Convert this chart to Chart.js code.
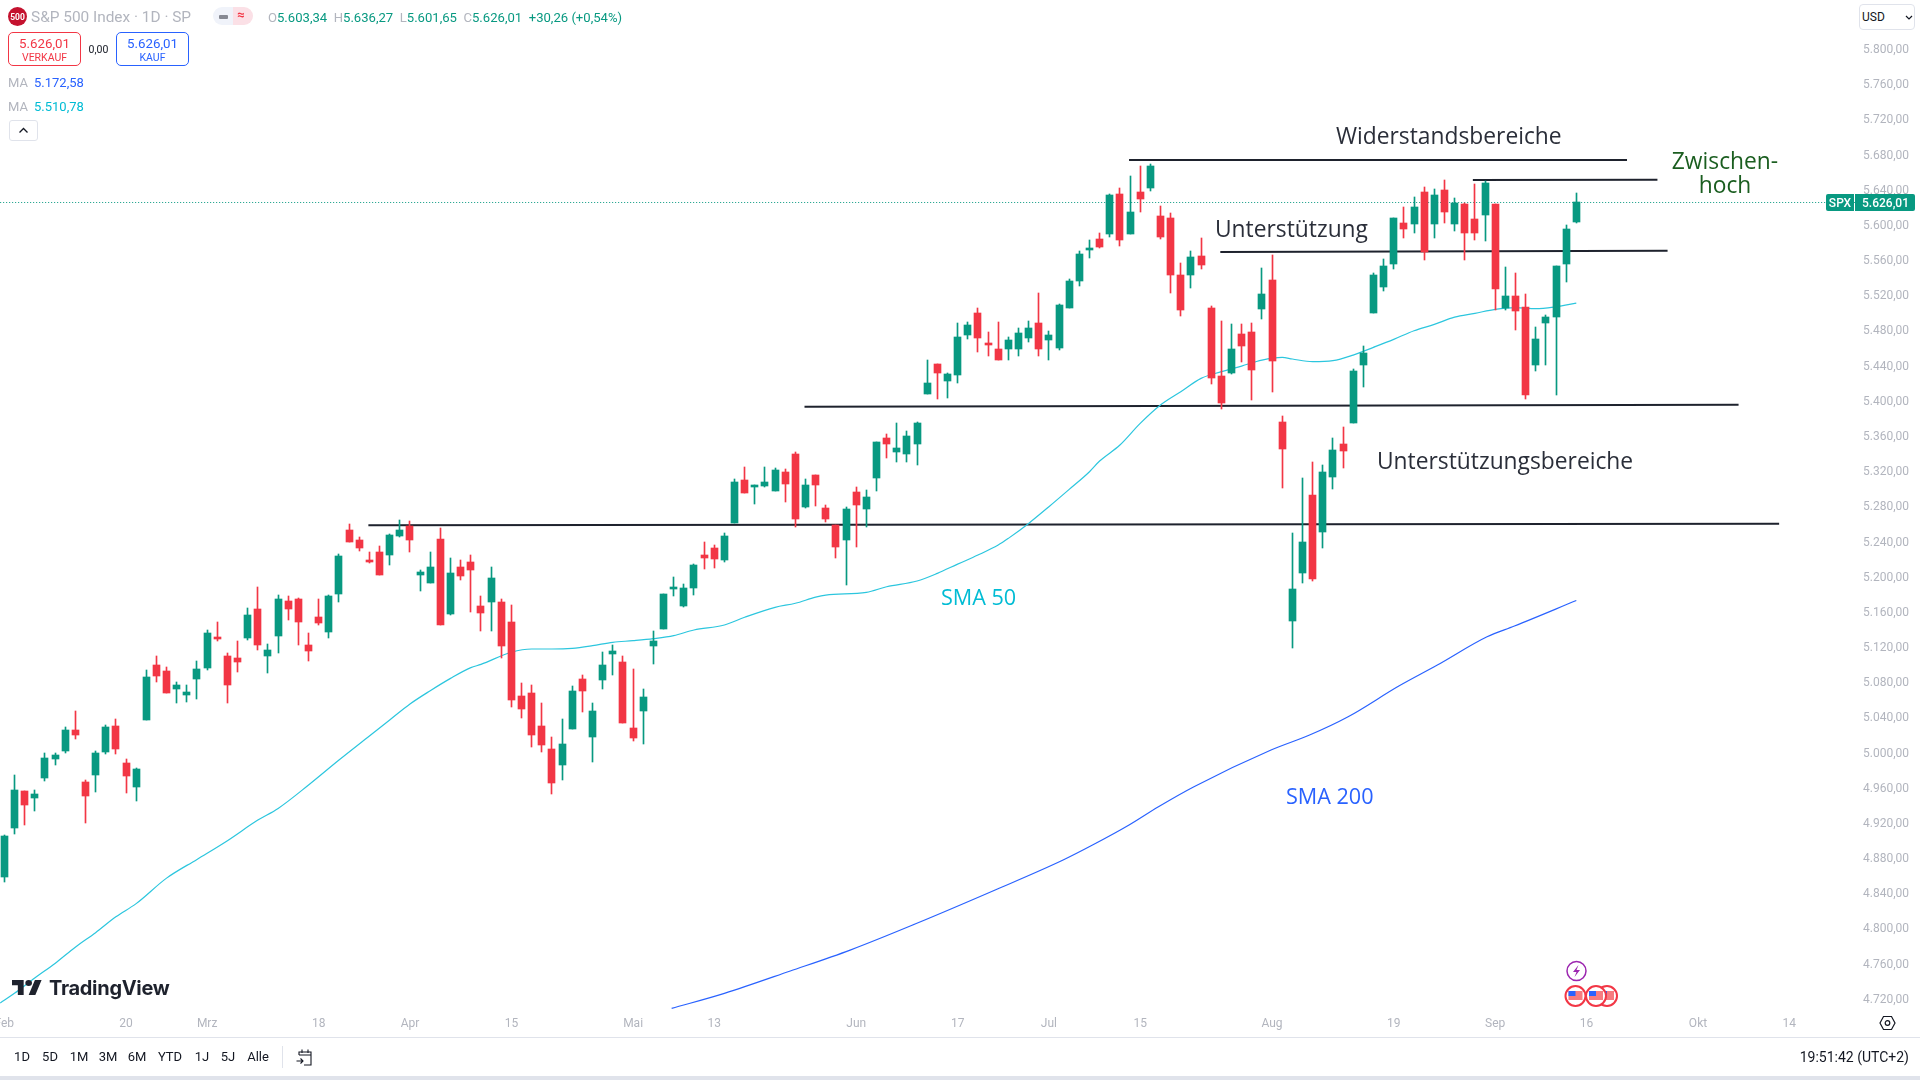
<!DOCTYPE html>
<html lang="de">
<head>
<meta charset="utf-8">
<title>S&amp;P 500 Index</title>
<script src="https://cdn.jsdelivr.net/npm/chart.js@4/dist/chart.umd.js"></script>
<style>
  html, body { margin: 0; padding: 0; background: #fff; }
  body { width: 1920px; height: 1080px; position: relative; overflow: hidden; font-family: Roboto, sans-serif; }
  canvas { position: absolute; left: 0; top: 0; }
  .t { position: absolute; white-space: nowrap; line-height: 1; }
  .box { position: absolute; box-sizing: border-box; background: #fff; }
  .note { position: absolute; white-space: nowrap; line-height: 1; font-family: "Open Sans", sans-serif; color: #2a2e39; font-size: 22.8px; }
  .sma { font-size: 21.6px; font-weight: 500; }
  .bar-btn { position: absolute; top: 1050px; font-size: 13px; line-height: 14px; color: #131722; transform: translateX(-50%); }
  .g { color: #089981; }
  .l { color: #b2b5be; }
</style>
</head>
<body>
<canvas id="chart" width="1920" height="1080"></canvas>

<!-- legend top left -->
<svg style="position:absolute;left:8px;top:7px" width="19" height="19"><circle cx="9.5" cy="9.5" r="9.5" fill="#c4122f"/><text x="9.5" y="12.5" text-anchor="middle" font-size="8.5" font-weight="700" fill="#fff" font-family="Roboto">500</text></svg>
<div class="t l" style="left:31px;top:10px;font-size:15.4px">S&amp;P 500 Index · 1D · SP</div>
<div class="box" style="left:213px;top:7px;width:20px;height:18px;background:#f0f3fa;border-radius:9px 0 0 9px"></div>
<div class="box" style="left:233px;top:7px;width:20px;height:18px;background:#fbe0e6;border-radius:0 9px 9px 0"></div>
<div class="box" style="left:219px;top:14.5px;width:9px;height:4px;background:#868993;border-radius:1px"></div>
<div class="t" style="left:237px;top:8px;font-size:13px;color:#f23645;font-weight:700">≈</div>
<div class="t" style="left:268px;top:11px;font-size:13.100px"><span class="l">O</span><span class="g">5.603,34</span>&nbsp; <span class="l">H</span><span class="g">5.636,27</span>&nbsp; <span class="l">L</span><span class="g">5.601,65</span>&nbsp; <span class="l">C</span><span class="g">5.626,01</span>&nbsp; <span class="g">+30,26 (+0,54%)</span></div>

<div class="box" style="left:8px;top:32px;width:73px;height:34px;border:1px solid #f23645;border-radius:5px"></div>
<div class="t" style="left:8px;width:73px;text-align:center;top:36.500px;font-size:13.300px;color:#f23645">5.626,01</div>
<div class="t" style="left:8px;width:73px;text-align:center;top:53px;font-size:10.500px;color:#f23645">VERKAUF</div>
<div class="t" style="left:88px;width:21px;text-align:center;top:45px;font-size:10.500px;color:#131722">0,00</div>
<div class="box" style="left:116px;top:32px;width:73px;height:34px;border:1px solid #2962ff;border-radius:5px"></div>
<div class="t" style="left:116px;width:73px;text-align:center;top:36.500px;font-size:13.300px;color:#2962ff">5.626,01</div>
<div class="t" style="left:116px;width:73px;text-align:center;top:53px;font-size:10.500px;color:#2962ff">KAUF</div>
<div class="t l" style="left:8px;top:76px;font-size:13px">MA</div>
<div class="t" style="left:34px;top:76px;font-size:13px;color:#2962ff">5.172,58</div>
<div class="t l" style="left:8px;top:100px;font-size:13px">MA</div>
<div class="t" style="left:34px;top:100px;font-size:13px;color:#00bcd4">5.510,78</div>
<div class="box" style="left:9px;top:120px;width:29px;height:21px;border:1px solid #e0e3eb;border-radius:3px"></div>
<svg style="position:absolute;left:18px;top:127px" width="11" height="7"><path d="M1.5 5.5 L5.5 1.5 L9.5 5.5" fill="none" stroke="#131722" stroke-width="1.3"/></svg>

<!-- price axis top right -->
<div class="box" style="left:1859px;top:4px;width:56px;height:26px;border:1px solid #e0e3eb;border-radius:4px"></div>
<div class="t" style="left:1862px;top:11px;font-size:12px;color:#131722">USD</div>
<svg style="position:absolute;left:1905px;top:15px" width="8" height="5"><path d="M1 1 L4 4 L7 1" fill="none" stroke="#131722" stroke-width="1.2"/></svg>
<div class="box" style="left:1826px;top:194px;width:28px;height:17px;background:#089981;border-radius:2px 0 0 2px"></div>
<div class="t" style="left:1826px;width:28px;text-align:center;top:196.5px;font-size:12px;color:#fff;font-weight:500">SPX</div>
<div class="box" style="left:1855px;top:194px;width:60px;height:17px;background:#089981;border-radius:0 2px 2px 0"></div>
<div class="t" style="left:1855px;width:54px;text-align:right;top:196.5px;font-size:12px;color:#fff;font-weight:500">5.626,01</div>

<!-- hand drawn annotations -->
<div class="note" style="left:1336px;top:124.500px">Widerstandsbereiche</div>
<div class="note" style="left:1215px;top:218px">Unterstützung</div>
<div class="note" style="left:1377px;top:449.500px">Unterstützungsbereiche</div>
<div class="note" style="left:1665px;width:120px;text-align:center;top:150px;color:#1b5e20">Zwischen-</div>
<div class="note" style="left:1665px;width:120px;text-align:center;top:174px;color:#1b5e20">hoch</div>
<div class="note sma" style="left:941px;top:586px;color:#00bcd4">SMA 50</div>
<div class="note sma" style="left:1286px;top:785px;color:#2962ff">SMA 200</div>

<!-- watermark -->
<svg style="position:absolute;left:12px;top:980px" width="30" height="15" viewBox="0 0 36 20" preserveAspectRatio="none"><path d="M14 20H7V7H0V0h14v20zM28 20h-8L27.500 0h8L28 20z" fill="#1e222d"/><circle cx="20" cy="4" r="4" fill="#1e222d"/></svg>
<div class="t" style="left:49px;top:977.500px;font-size:20px;font-weight:700;color:#1e222d;letter-spacing:-0.3px;font-family:Inter,sans-serif">TradingView</div>

<!-- event markers -->
<svg style="position:absolute;left:1560px;top:958px" width="62" height="52">
  <circle cx="16.500" cy="13" r="9.500" fill="#fff" stroke="#9c27b0" stroke-width="1.500"/>
  <path d="M18.500 7 L13 14 H16.500 L14.500 19 L20 12 H16.500 Z" fill="#9c27b0"/>
  <circle cx="47" cy="38" r="10" fill="#fff" stroke="#f23645" stroke-width="2"/>
  <rect x="40" y="33" width="14" height="9" fill="#f77c80"/><rect x="40" y="33" width="7" height="5" fill="#2962ff"/>
  <circle cx="36" cy="38" r="10" fill="#fff" stroke="#f23645" stroke-width="2"/>
  <rect x="29" y="33" width="14" height="9" fill="#f77c80"/><rect x="29" y="33" width="7" height="5" fill="#2962ff"/>
  <circle cx="15.500" cy="38" r="10" fill="#fff" stroke="#f23645" stroke-width="2"/>
  <rect x="8.500" y="33" width="14" height="9" fill="#f77c80"/><rect x="8.500" y="33" width="7" height="5" fill="#2962ff"/>
</svg>
<svg style="position:absolute;left:1879px;top:1015px" width="17" height="16"><path d="M4.500 1.500 H12.500 L16 8 L12.500 14.500 H4.500 L1 8 Z" fill="none" stroke="#131722" stroke-width="1.200"/><circle cx="8.500" cy="8" r="2.300" fill="none" stroke="#131722" stroke-width="1.200"/></svg>

<!-- bottom toolbar -->
<div class="box" style="left:0;top:1037px;width:1920px;height:1px;background:#e0e3eb"></div>
<div class="box" style="left:0;top:1076px;width:1920px;height:4px;background:#e0e3eb"></div>
<div class="bar-btn" style="left:22px">1D</div>
<div class="bar-btn" style="left:50px">5D</div>
<div class="bar-btn" style="left:79px">1M</div>
<div class="bar-btn" style="left:108px">3M</div>
<div class="bar-btn" style="left:137px">6M</div>
<div class="bar-btn" style="left:170px">YTD</div>
<div class="bar-btn" style="left:202px">1J</div>
<div class="bar-btn" style="left:228px">5J</div>
<div class="bar-btn" style="left:258px">Alle</div>
<div class="box" style="left:282px;top:1046px;width:1px;height:22px;background:#e0e3eb"></div>
<svg style="position:absolute;left:295px;top:1047px" width="20" height="20"><path d="M4 8 V5 H16 V18 H9 M4 8 H16 M7 2.500 V6 M13 2.500 V6 M1.500 14 H8 M5.500 11.500 L8 14 L5.500 16.500" fill="none" stroke="#131722" stroke-width="1.100"/></svg>
<div class="t" style="right:11px;top:1050px;font-size:14px;line-height:14px;color:#131722">19:51:42 (UTC+2)</div>

<script>
// values, one entry per trading day
const opens = [
  4858.2, 4914, 4956, 4948.1, 4970.8, 4992.4, 5001.5, 5025.4, 4966, 4974.2,
  5000.4, 5029.9, 4987.9, 4960.6, 5036.8, 5099.3, 5092.5, 5072, 5065.2, 5083.4,
  5095.9, 5130, 5109.5, 5107.2, 5130, 5163, 5109.5, 5132.3, 5172, 5174.3,
  5122, 5153.9, 5136.8, 5180, 5252.8, 5241.4, 5218.7, 5227.8, 5224.4, 5246,
  5257.3, 5201.6, 5192.5, 5242.6, 5157.3, 5210.7, 5216.4, 5166.4, 5171, 5171,
  5148.2, 5064.1, 5067.5, 5030, 5003.9, 4985.7, 5026.6, 5083.4, 5017.5, 5082.3,
  5111.9, 5102.8, 5027.7, 5047, 5121, 5140.3, 5185.8, 5166.4, 5186.9, 5224.4,
  5232.4, 5218.7, 5260.7, 5309.6, 5301.6, 5302.8, 5297.1, 5318.7, 5339.2, 5278.9,
  5315.3, 5277.8, 5258.4, 5241.4, 5296, 5276.6, 5311.9, 5357.4, 5341.4, 5339.2,
  5350.5, 5407.4, 5441.5, 5422.2, 5429, 5474.5, 5499.5, 5465.4, 5458.5, 5458.5,
  5458.5, 5471, 5488.1, 5468.8, 5459.7, 5505.2, 5535.9, 5571.5, 5583.6, 5589.3,
  5634.8, 5589.3, 5637, 5641.6, 5609.8, 5607.5, 5542.7, 5542.7, 5564.3, 5505.2,
  5427.9, 5431.3, 5475.6, 5477.9, 5504, 5537, 5375.6, 5149.3, 5203.9, 5292.6,
  5250.5, 5313, 5350.6, 5374.4, 5440.4, 5499.5, 5529, 5555.2, 5601.8, 5600.7,
  5637, 5600.7, 5639.4, 5600.7, 5623.4, 5606.4, 5610.9, 5623.4, 5505.2, 5518.8,
  5506.3, 5440.4, 5488.1, 5495, 5555.2, 5603.34
];
const highs = [
  4906, 4974.2, 4956, 4957.2, 4999.2, 4999.2, 5028.8, 5047, 4969, 5001.5,
  5031, 5037.9, 4992.4, 4982.2, 5093.6, 5109.5, 5097, 5080, 5076.6, 5103.8,
  5139.1, 5148.2, 5112.9, 5126.6, 5164.1, 5188, 5123.2, 5178.9, 5177.8, 5175.5,
  5135.7, 5174.3, 5178.9, 5225.5, 5259.6, 5244.8, 5227.8, 5234.6, 5248.2, 5264.2,
  5263, 5207.3, 5227.8, 5255, 5220.9, 5218.7, 5224.4, 5177.8, 5210.8, 5174.4,
  5167.6, 5078.9, 5076.6, 5056.2, 5017.5, 5037.9, 5075.5, 5088, 5056.2, 5114.1,
  5122.1, 5109.6, 5094.8, 5072, 5138, 5180.1, 5199.4, 5191.5, 5214.2, 5239.2,
  5235.8, 5249.4, 5310.7, 5324.4, 5303.9, 5324.4, 5323.2, 5322.1, 5341.4, 5310.7,
  5315.3, 5281.2, 5258.4, 5278.9, 5301.6, 5298.2, 5352.8, 5361.9, 5374.4, 5365.3,
  5375.5, 5446, 5441.5, 5431.3, 5488.1, 5489.2, 5505.2, 5477.9, 5489.2, 5472.2,
  5482.4, 5490.4, 5522.2, 5479, 5509.7, 5537.7, 5570, 5582.5, 5590.4, 5634.8,
  5641.6, 5655.3, 5666.6, 5668.9, 5621.2, 5613.2, 5556.4, 5570, 5584.8, 5507.5,
  5490.4, 5487, 5487, 5488.1, 5550.7, 5565.4, 5382.4, 5249.4, 5311.9, 5330.1,
  5326.7, 5357.4, 5369.9, 5435.8, 5462, 5545, 5560.9, 5607.5, 5620, 5631.4,
  5642.8, 5640.5, 5650.7, 5630.3, 5624.6, 5646.2, 5649.6, 5623.4, 5551.8, 5545,
  5521.1, 5483.6, 5497.2, 5552.9, 5599.6, 5636.27
];
const lows = [
  4852.6, 4907.1, 4917.4, 4933.3, 4967.4, 4985.6, 4999.2, 5015.2, 4919.7, 4954.9,
  4998.1, 4998.1, 4953.8, 4944.7, 5036.8, 5080, 5067.5, 5056.1, 5057.2, 5060.6,
  5093.6, 5126.6, 5056.1, 5091.3, 5127.7, 5116.4, 5090.2, 5112.9, 5150.5, 5122,
  5103.8, 5144.8, 5130, 5170.9, 5239.2, 5228.9, 5215.3, 5201.6, 5213, 5244.8,
  5227.8, 5183.4, 5192.5, 5144.8, 5156.2, 5195.9, 5159.6, 5138, 5138, 5107.3,
  5051.6, 5039.1, 5006.1, 5000.4, 4952.7, 4968.6, 5026.6, 5045.9, 4989, 5072,
  5088, 5033.4, 5012.9, 5009.5, 5100.5, 5140.3, 5177.8, 5165.3, 5179, 5208.5,
  5209.6, 5216.5, 5260.7, 5294.8, 5282.3, 5301.6, 5297.1, 5284.6, 5256.2, 5277.8,
  5280, 5261.8, 5220.9, 5190.2, 5233.4, 5256.2, 5297.1, 5334.6, 5330, 5330,
  5326.7, 5407.4, 5401.7, 5402.8, 5419.9, 5469.9, 5455.1, 5450.6, 5446, 5446,
  5450.6, 5466.5, 5450.6, 5446, 5457.4, 5505.2, 5530.2, 5562.4, 5573.4, 5585.9,
  5575.7, 5589.3, 5614.3, 5638.2, 5583.6, 5522.2, 5496.1, 5527.9, 5549.5, 5418.8,
  5390.3, 5430.1, 5443.8, 5400.6, 5492.7, 5409.7, 5300.5, 5118.6, 5192.5, 5194.8,
  5232.3, 5299.4, 5323.3, 5374.4, 5415.4, 5499.5, 5524.5, 5549.5, 5584.8, 5590.5,
  5559.8, 5584.8, 5601.8, 5592.7, 5559.8, 5582.5, 5581.4, 5502.9, 5502.9, 5480.2,
  5401.7, 5433.5, 5440.4, 5406.3, 5534.7, 5601.65
];
const closes = [
  4904.9, 4957.2, 4940.1, 4952.6, 4993.5, 4997, 5025.4, 5019.7, 4950.3, 4999.2,
  5028.8, 5003.8, 4973.1, 4981, 5085.7, 5086.8, 5067.5, 5076.6, 5068.6, 5094.7,
  5135.7, 5128.9, 5076.6, 5102.7, 5156.2, 5122, 5116.4, 5174.3, 5163, 5148.2,
  5115.2, 5147, 5177.8, 5223.2, 5239.2, 5232.3, 5216.4, 5201.6, 5247.1, 5252.8,
  5241.4, 5205, 5210.7, 5144.8, 5203.9, 5200.5, 5207.3, 5158.5, 5198.3, 5121,
  5059.6, 5049.3, 5019.8, 5008.4, 4965.2, 5009.5, 5069.8, 5069.8, 5047, 5099.4,
  5115.3, 5033.4, 5016.4, 5062.9, 5126.6, 5180.1, 5186.9, 5186.9, 5213, 5221,
  5219.9, 5246, 5307.3, 5294.8, 5302.8, 5307.3, 5321, 5305, 5265.3, 5303.9,
  5303.9, 5265.3, 5233.4, 5276.6, 5281.2, 5290.3, 5352.8, 5350.5, 5346, 5359.6,
  5374.4, 5419.9, 5431.3, 5430.1, 5472.2, 5485.8, 5471, 5463.1, 5446, 5468.8,
  5476.7, 5482.4, 5458.5, 5474.5, 5508.6, 5535.9, 5566.6, 5572.6, 5574.5, 5633.7,
  5582.5, 5614.3, 5629.1, 5666.6, 5585.9, 5542.7, 5502.9, 5563.2, 5554.1, 5425.6,
  5397.2, 5458.6, 5462, 5434.7, 5521.1, 5444.9, 5344.9, 5185.7, 5239.1, 5197.1,
  5318.7, 5343.8, 5342.6, 5433.5, 5454, 5542.7, 5552.9, 5607.5, 5595, 5620,
  5568.9, 5633.7, 5614.3, 5624.6, 5590.5, 5590.5, 5647.3, 5526.8, 5518.8, 5501.8,
  5406.3, 5470, 5495, 5552.9, 5595, 5626.01
];

const sma50Days = [
  -0.4, 1, 3, 5, 7, 9, 11, 13, 16, 19, 22, 25, 27, 30, 33, 36, 38, 40, 42, 44, 46, 47,
  50, 52, 54, 56, 58, 60, 62, 64, 66, 68, 71, 73, 76, 78, 80, 81, 85, 87, 90, 92, 94, 96, 98, 99,
  101, 103, 105, 107, 108, 110, 112, 114, 116, 118, 120, 122, 124, 126, 127, 129, 131, 133, 135,
  137, 139, 141, 143, 145, 147, 149, 151, 153, 155
];
const sma50Values = [
  4715, 4726, 4743.5, 4760, 4778.5, 4795, 4813, 4828, 4857, 4878.3, 4899.6, 4923, 4936.3, 4962.9, 4991.3, 5018.6, 5036.8, 5055, 5070.1, 5084.1, 5096.3, 5100,
  5113.8, 5117.5, 5117.5, 5118.3, 5121.3, 5125.1, 5127, 5129.3, 5132.7, 5139.1, 5144.8, 5153.6, 5164.9, 5169.5, 5176.5, 5178.8, 5181.9, 5188.3, 5194.8, 5203.5, 5214, 5224.3, 5235.7, 5243.3,
  5260.3, 5279.3, 5299, 5319.1, 5331.2, 5349.4, 5374, 5394.9, 5410, 5425.2, 5432.8, 5439.2, 5446, 5449, 5447.2, 5444.2, 5445.3, 5451.7, 5460.5,
  5469.6, 5479.4, 5486.6, 5494.9, 5499.1, 5503.7, 5505.6, 5504.4, 5506.7, 5510.78
];
const sma200Days = [65.8, 71, 77.5, 83.4, 89.8, 97.7, 104.4, 107.3, 110.9, 113.8, 117.3, 124.9, 128.7, 132.5, 137.5, 141.3, 146.2, 148.9, 155];
const sma200Values = [4708.9, 4726, 4751.4, 4775.2, 4804.8, 4843.5, 4877.6, 4894.6, 4917.4, 4938.2, 4961, 5002.7, 5019.7, 5040.5, 5075.4, 5099.3, 5131.5, 5143.6, 5172.58];

// horizontal levels drawn by hand: [first day, last day, price at start, price at end]
const levelLines = [
  [110.9, 160, 5673.5, 5673.5],
  [144.8, 163, 5650.7, 5651],
  [119.9, 164, 5568.9, 5570.3],
  [78.9, 171, 5393, 5395.3],
  [35.9, 175, 5258.2, 5260]
];
const lastPrice = 5626.01;

const priceTicks = [5800, 5760, 5720, 5680, 5640, 5600, 5560, 5520, 5480, 5440, 5400, 5360, 5320, 5280, 5240, 5200, 5160, 5120, 5080, 5040, 5000, 4960, 4920, 4880, 4840, 4800, 4760, 4720];
const timeTickDays = [0, 12, 20, 31, 40, 50, 62, 70, 84, 94, 103, 112, 125, 137, 147, 156, 167, 176];
const timeTickLabels = ["Feb", "20", "Mrz", "18", "Apr", "15", "Mai", "13", "Jun", "17", "Jul", "15", "Aug", "19", "Sep", "16", "Okt", "14"];

const UP = "#089981";
const DOWN = "#f23645";
const AXIS_TEXT = "#b2b5be";
// the axis text sits a touch under its tick in the original
const LABEL_NUDGE = 1.4;

const candleColors = opens.map((o, i) => (closes[i] >= o ? UP : DOWN));

function formatPrice(value) {
  return value.toLocaleString("de-DE", { minimumFractionDigits: 2, maximumFractionDigits: 2 });
}

function lineSet(points, color, width, order) {
  return {
    type: "line",
    data: points,
    borderColor: color,
    borderWidth: width,
    pointRadius: 0,
    tension: 0,
    order
  };
}

function zip(days, values) {
  return days.map((day, i) => ({ x: day, y: values[i] }));
}

// keep candles and the last price line on whole pixels like the original does
const snapToPixels = {
  id: "snapToPixels",
  afterDatasetsUpdate(chart) {
    chart.data.datasets.forEach((set, i) => {
      const elements = chart.getDatasetMeta(i).data;
      if (set.type === "bar") {
        elements.forEach(bar => {
          bar.x = Math.floor(bar.x) + 0.5;
          bar.y = Math.round(bar.y);
          bar.base = Math.round(bar.base);
        });
      } else if (set.snapY) {
        elements.forEach(point => {
          point.y = Math.round(point.y) + 0.5;
        });
      }
    });
  }
};

function smaSet(days, values, color) {
  const set = lineSet(zip(days, values), color, 1.2, 4);
  set.cubicInterpolationMode = "monotone";
  return set;
}

const levelSets = levelLines.map(line =>
  lineSet([{ x: line[0], y: line[2] }, { x: line[1], y: line[3] }], "#1e222d", 2, 5)
);
const lastPriceSet = lineSet([{ x: -1, y: lastPrice }, { x: 183, y: lastPrice }], UP, 1, 6);
lastPriceSet.borderDash = [1, 2];
lastPriceSet.snapY = true;

new Chart(document.getElementById("chart"), {
  type: "bar",
  data: {
    datasets: [
      ...levelSets,
      lastPriceSet,
      smaSet(sma50Days, sma50Values, "#2cc6de"),
      smaSet(sma200Days, sma200Values, "#2962ff"),
      {
        type: "bar",
        data: highs.map((h, i) => ({ x: i, y: [lows[i], h] })),
        backgroundColor: candleColors,
        barThickness: 1,
        grouped: false,
        order: 2
      },
      {
        type: "bar",
        data: opens.map((o, i) => ({ x: i, y: [o, closes[i]] })),
        backgroundColor: candleColors,
        barThickness: 7,
        minBarLength: 2,
        grouped: false,
        order: 1
      }
    ]
  },
  options: {
    responsive: false,
    animation: false,
    layout: { padding: 0, autoPadding: false },
    plugins: { legend: { display: false }, tooltip: { enabled: false } },
    scales: {
      x: {
        type: "linear",
        offset: false,
        min: -0.424,
        max: 182.48,
        grid: { display: false, drawTicks: false },
        border: { display: false },
        afterBuildTicks(scale) {
          scale.ticks = timeTickDays.map(value => ({ value }));
        },
        afterFit(scale) {
          scale.height = 68;
          scale.paddingLeft = 0;
          scale.paddingRight = 0;
        },
        ticks: {
          autoSkip: false,
          maxRotation: 0,
          padding: 5,
          color: AXIS_TEXT,
          font: { family: "Roboto", size: 12 },
          callback: (value, index) => timeTickLabels[index]
        }
      },
      y: {
        position: "right",
        min: 4704.8,
        max: 5855.4,
        grid: { display: false, drawTicks: false },
        border: { display: false },
        afterBuildTicks(scale) {
          scale.ticks = priceTicks.map(value => ({ value: value - LABEL_NUDGE }));
        },
        afterFit(scale) {
          scale.width = 65;
          scale.paddingTop = 0;
          scale.paddingBottom = 0;
        },
        ticks: {
          autoSkip: false,
          padding: 8,
          color: AXIS_TEXT,
          font: { family: "Roboto", size: 12 },
          callback: (value, index) => formatPrice(priceTicks[index])
        }
      }
    }
  },
  plugins: [snapToPixels]
});
</script>
</body>
</html>
